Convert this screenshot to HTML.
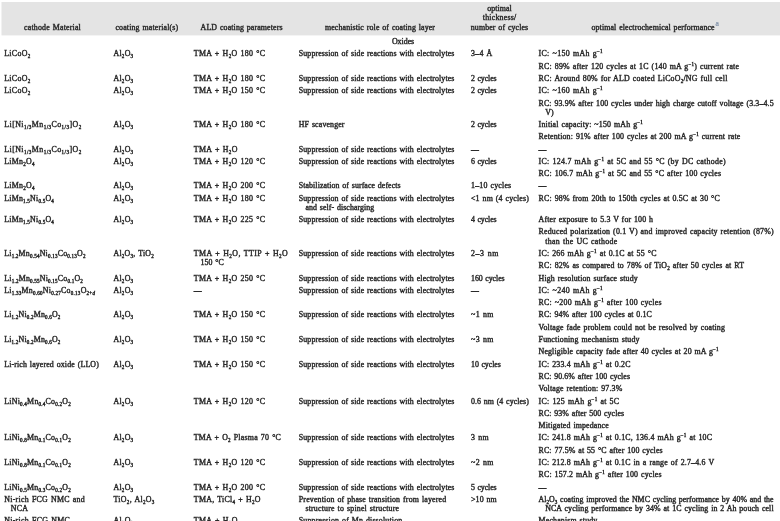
<!DOCTYPE html>
<html><head><meta charset="utf-8"><style>
html,body{margin:0;padding:0;background:#fff;width:780px;height:521px;overflow:hidden}
svg{display:block;filter:blur(0.42px)}
text{font-family:"Liberation Serif",serif;font-size:7.9px;word-spacing:0.7px;fill:#2a2a2a;stroke:#2a2a2a;stroke-width:0.4px}
.sb,.sp{font-size:5.06px}
.sa{font-size:7.6px;fill:#7b8da6;stroke:#7b8da6;stroke-width:0.2px}
</style></head><body>
<svg width="780" height="521" viewBox="0 0 780 521">
<rect x="1.5" y="2" width="779" height="33.4" fill="#e4e4e4"/>
<text x="4.20" y="56.35" textLength="26.0" lengthAdjust="spacing">LiCoO<tspan class="sb" dy="2.0">2</tspan></text>
<text x="113.50" y="56.35" textLength="19.6" lengthAdjust="spacing">Al<tspan class="sb" dy="2.0">2</tspan><tspan dy="-2.0">O</tspan><tspan class="sb" dy="2.0">3</tspan></text>
<text x="193.80" y="56.35" textLength="71.2" lengthAdjust="spacing">TMA + H<tspan class="sb" dy="2.0">2</tspan><tspan dy="-2.0">O 180 °C</tspan></text>
<text x="298.80" y="56.35" textLength="155.6" lengthAdjust="spacing">Suppression of side reactions with electrolytes</text>
<text x="471.00" y="56.35" textLength="21.3" lengthAdjust="spacing">3–4 Å</text>
<text x="538.60" y="56.35" textLength="64.0" lengthAdjust="spacing">IC: ~150 mAh g<tspan class="sp" dy="-3.0">−1</tspan></text>
<text x="538.60" y="68.65" textLength="200.4" lengthAdjust="spacing">RC: 89% after 120 cycles at 1C (140 mA g<tspan class="sp" dy="-3.0">−1</tspan><tspan dy="3.0">) current rate</tspan></text>
<text x="4.20" y="80.95" textLength="26.0" lengthAdjust="spacing">LiCoO<tspan class="sb" dy="2.0">2</tspan></text>
<text x="113.50" y="80.95" textLength="19.6" lengthAdjust="spacing">Al<tspan class="sb" dy="2.0">2</tspan><tspan dy="-2.0">O</tspan><tspan class="sb" dy="2.0">3</tspan></text>
<text x="193.80" y="80.95" textLength="71.2" lengthAdjust="spacing">TMA + H<tspan class="sb" dy="2.0">2</tspan><tspan dy="-2.0">O 180 °C</tspan></text>
<text x="298.80" y="80.95" textLength="155.6" lengthAdjust="spacing">Suppression of side reactions with electrolytes</text>
<text x="471.00" y="80.95" textLength="25.7" lengthAdjust="spacing">2 cycles</text>
<text x="538.60" y="80.95" textLength="188.8" lengthAdjust="spacing">RC: Around 80% for ALD coated LiCoO<tspan class="sb" dy="2.0">2</tspan><tspan dy="-2.0">/NG full cell</tspan></text>
<text x="4.20" y="93.25" textLength="26.0" lengthAdjust="spacing">LiCoO<tspan class="sb" dy="2.0">2</tspan></text>
<text x="113.50" y="93.25" textLength="19.6" lengthAdjust="spacing">Al<tspan class="sb" dy="2.0">2</tspan><tspan dy="-2.0">O</tspan><tspan class="sb" dy="2.0">3</tspan></text>
<text x="193.80" y="93.25" textLength="71.2" lengthAdjust="spacing">TMA + H<tspan class="sb" dy="2.0">2</tspan><tspan dy="-2.0">O 150 °C</tspan></text>
<text x="298.80" y="93.25" textLength="155.6" lengthAdjust="spacing">Suppression of side reactions with electrolytes</text>
<text x="471.00" y="93.25" textLength="25.7" lengthAdjust="spacing">2 cycles</text>
<text x="538.60" y="93.25" textLength="64.0" lengthAdjust="spacing">IC: ~160 mAh g<tspan class="sp" dy="-3.0">−1</tspan></text>
<text x="538.60" y="105.55" textLength="235.0" lengthAdjust="spacing">RC: 93.9% after 100 cycles under high charge cutoff voltage (3.3–4.5</text>
<text x="545.20" y="114.67">V)</text>
<text x="4.20" y="126.97" textLength="77.0" lengthAdjust="spacing">Li[Ni<tspan class="sb" dy="2.0">1/3</tspan><tspan dy="-2.0">Mn</tspan><tspan class="sb" dy="2.0">1/3</tspan><tspan dy="-2.0">Co</tspan><tspan class="sb" dy="2.0">1/3</tspan><tspan dy="-2.0">]O</tspan><tspan class="sb" dy="2.0">2</tspan></text>
<text x="113.50" y="126.97" textLength="19.6" lengthAdjust="spacing">Al<tspan class="sb" dy="2.0">2</tspan><tspan dy="-2.0">O</tspan><tspan class="sb" dy="2.0">3</tspan></text>
<text x="193.80" y="126.97" textLength="71.2" lengthAdjust="spacing">TMA + H<tspan class="sb" dy="2.0">2</tspan><tspan dy="-2.0">O 180 °C</tspan></text>
<text x="298.80" y="126.97" textLength="45.7" lengthAdjust="spacing">HF scavenger</text>
<text x="471.00" y="126.97" textLength="25.7" lengthAdjust="spacing">2 cycles</text>
<text x="538.60" y="126.97" textLength="104.2" lengthAdjust="spacing">Initial capacity: ~150 mAh g<tspan class="sp" dy="-3.0">−1</tspan></text>
<text x="538.60" y="139.27" textLength="201.7" lengthAdjust="spacing">Retention: 91% after 100 cycles at 200 mA g<tspan class="sp" dy="-3.0">−1</tspan><tspan dy="3.0"> current rate</tspan></text>
<text x="4.20" y="151.57" textLength="77.0" lengthAdjust="spacing">Li[Ni<tspan class="sb" dy="2.0">1/3</tspan><tspan dy="-2.0">Mn</tspan><tspan class="sb" dy="2.0">1/3</tspan><tspan dy="-2.0">Co</tspan><tspan class="sb" dy="2.0">1/3</tspan><tspan dy="-2.0">]O</tspan><tspan class="sb" dy="2.0">2</tspan></text>
<text x="113.50" y="151.57" textLength="19.6" lengthAdjust="spacing">Al<tspan class="sb" dy="2.0">2</tspan><tspan dy="-2.0">O</tspan><tspan class="sb" dy="2.0">3</tspan></text>
<text x="193.80" y="151.57" textLength="43.6" lengthAdjust="spacing">TMA + H<tspan class="sb" dy="2.0">2</tspan><tspan dy="-2.0">O</tspan></text>
<text x="298.80" y="151.57" textLength="155.6" lengthAdjust="spacing">Suppression of side reactions with electrolytes</text>
<text x="471.00" y="151.57">—</text>
<text x="538.60" y="151.57">—</text>
<text x="4.20" y="163.87" textLength="30.3" lengthAdjust="spacing">LiMn<tspan class="sb" dy="2.0">2</tspan><tspan dy="-2.0">O</tspan><tspan class="sb" dy="2.0">4</tspan></text>
<text x="113.50" y="163.87" textLength="19.6" lengthAdjust="spacing">Al<tspan class="sb" dy="2.0">2</tspan><tspan dy="-2.0">O</tspan><tspan class="sb" dy="2.0">3</tspan></text>
<text x="193.80" y="163.87" textLength="71.2" lengthAdjust="spacing">TMA + H<tspan class="sb" dy="2.0">2</tspan><tspan dy="-2.0">O 120 °C</tspan></text>
<text x="298.80" y="163.87" textLength="155.6" lengthAdjust="spacing">Suppression of side reactions with electrolytes</text>
<text x="471.00" y="163.87" textLength="25.7" lengthAdjust="spacing">6 cycles</text>
<text x="538.60" y="163.87" textLength="187.0" lengthAdjust="spacing">IC: 124.7 mAh g<tspan class="sp" dy="-3.0">−1</tspan><tspan dy="3.0"> at 5C and 55 °C (by DC cathode)</tspan></text>
<text x="538.60" y="176.17" textLength="182.4" lengthAdjust="spacing">RC: 106.7 mAh g<tspan class="sp" dy="-3.0">−1</tspan><tspan dy="3.0"> at 5C and 55 °C after 100 cycles</tspan></text>
<text x="4.20" y="188.47" textLength="30.3" lengthAdjust="spacing">LiMn<tspan class="sb" dy="2.0">2</tspan><tspan dy="-2.0">O</tspan><tspan class="sb" dy="2.0">4</tspan></text>
<text x="113.50" y="188.47" textLength="19.6" lengthAdjust="spacing">Al<tspan class="sb" dy="2.0">2</tspan><tspan dy="-2.0">O</tspan><tspan class="sb" dy="2.0">3</tspan></text>
<text x="193.80" y="188.47" textLength="71.2" lengthAdjust="spacing">TMA + H<tspan class="sb" dy="2.0">2</tspan><tspan dy="-2.0">O 200 °C</tspan></text>
<text x="298.80" y="188.47" textLength="101.8" lengthAdjust="spacing">Stabilization of surface defects</text>
<text x="471.00" y="188.47" textLength="40.2" lengthAdjust="spacing">1–10 cycles</text>
<text x="538.60" y="188.47">—</text>
<text x="4.20" y="200.77" textLength="49.7" lengthAdjust="spacing">LiMn<tspan class="sb" dy="2.0">1.5</tspan><tspan dy="-2.0">Ni</tspan><tspan class="sb" dy="2.0">0.5</tspan><tspan dy="-2.0">O</tspan><tspan class="sb" dy="2.0">4</tspan></text>
<text x="113.50" y="200.77" textLength="19.6" lengthAdjust="spacing">Al<tspan class="sb" dy="2.0">2</tspan><tspan dy="-2.0">O</tspan><tspan class="sb" dy="2.0">3</tspan></text>
<text x="193.80" y="200.77" textLength="71.2" lengthAdjust="spacing">TMA + H<tspan class="sb" dy="2.0">2</tspan><tspan dy="-2.0">O 180 °C</tspan></text>
<text x="298.80" y="200.77" textLength="155.6" lengthAdjust="spacing">Suppression of side reactions with electrolytes</text>
<text x="305.40" y="209.89" textLength="68.9" lengthAdjust="spacing">and self- discharging</text>
<text x="471.00" y="200.77" textLength="57.8" lengthAdjust="spacing">&lt;1 nm (4 cycles)</text>
<text x="538.60" y="200.77" textLength="181.1" lengthAdjust="spacing">RC: 98% from 20th to 150th cycles at 0.5C at 30 °C</text>
<text x="4.20" y="222.19" textLength="49.7" lengthAdjust="spacing">LiMn<tspan class="sb" dy="2.0">1.5</tspan><tspan dy="-2.0">Ni</tspan><tspan class="sb" dy="2.0">0.5</tspan><tspan dy="-2.0">O</tspan><tspan class="sb" dy="2.0">4</tspan></text>
<text x="113.50" y="222.19" textLength="19.6" lengthAdjust="spacing">Al<tspan class="sb" dy="2.0">2</tspan><tspan dy="-2.0">O</tspan><tspan class="sb" dy="2.0">3</tspan></text>
<text x="193.80" y="222.19" textLength="71.2" lengthAdjust="spacing">TMA + H<tspan class="sb" dy="2.0">2</tspan><tspan dy="-2.0">O 225 °C</tspan></text>
<text x="298.80" y="222.19" textLength="155.6" lengthAdjust="spacing">Suppression of side reactions with electrolytes</text>
<text x="471.00" y="222.19" textLength="25.7" lengthAdjust="spacing">4 cycles</text>
<text x="538.60" y="222.19" textLength="114.4" lengthAdjust="spacing">After exposure to 5.3 V for 100 h</text>
<text x="538.60" y="234.49" textLength="235.0" lengthAdjust="spacing">Reduced polarization (0.1 V) and improved capacity retention (87%)</text>
<text x="545.20" y="243.61" textLength="72.0" lengthAdjust="spacing">than the UC cathode</text>
<text x="4.20" y="255.91" textLength="81.3" lengthAdjust="spacing">Li<tspan class="sb" dy="2.0">1.2</tspan><tspan dy="-2.0">Mn</tspan><tspan class="sb" dy="2.0">0.54</tspan><tspan dy="-2.0">Ni</tspan><tspan class="sb" dy="2.0">0.13</tspan><tspan dy="-2.0">Co</tspan><tspan class="sb" dy="2.0">0.13</tspan><tspan dy="-2.0">O</tspan><tspan class="sb" dy="2.0">2</tspan></text>
<text x="113.50" y="255.91" textLength="40.3" lengthAdjust="spacing">Al<tspan class="sb" dy="2.0">2</tspan><tspan dy="-2.0">O</tspan><tspan class="sb" dy="2.0">3</tspan><tspan dy="-2.0">, TiO</tspan><tspan class="sb" dy="2.0">2</tspan></text>
<text x="193.80" y="255.91" textLength="93.9" lengthAdjust="spacing">TMA + H<tspan class="sb" dy="2.0">2</tspan><tspan dy="-2.0">O, TTIP + H</tspan><tspan class="sb" dy="2.0">2</tspan><tspan dy="-2.0">O</tspan></text>
<text x="200.40" y="265.03" textLength="23.4" lengthAdjust="spacing">150 °C</text>
<text x="298.80" y="255.91" textLength="155.6" lengthAdjust="spacing">Suppression of side reactions with electrolytes</text>
<text x="471.00" y="255.91" textLength="27.3" lengthAdjust="spacing">2–3 nm</text>
<text x="538.60" y="255.91" textLength="117.8" lengthAdjust="spacing">IC: 266 mAh g<tspan class="sp" dy="-3.0">−1</tspan><tspan dy="3.0"> at 0.1C at 55 °C</tspan></text>
<text x="538.60" y="268.21" textLength="205.5" lengthAdjust="spacing">RC: 82% as compared to 78% of TiO<tspan class="sb" dy="2.0">2</tspan><tspan dy="-2.0"> after 50 cycles at RT</tspan></text>
<text x="4.20" y="280.51" textLength="78.7" lengthAdjust="spacing">Li<tspan class="sb" dy="2.0">1.2</tspan><tspan dy="-2.0">Mn</tspan><tspan class="sb" dy="2.0">0.55</tspan><tspan dy="-2.0">Ni</tspan><tspan class="sb" dy="2.0">0.15</tspan><tspan dy="-2.0">Co</tspan><tspan class="sb" dy="2.0">0.1</tspan><tspan dy="-2.0">O</tspan><tspan class="sb" dy="2.0">2</tspan></text>
<text x="113.50" y="280.51" textLength="19.6" lengthAdjust="spacing">Al<tspan class="sb" dy="2.0">2</tspan><tspan dy="-2.0">O</tspan><tspan class="sb" dy="2.0">3</tspan></text>
<text x="193.80" y="280.51" textLength="71.2" lengthAdjust="spacing">TMA + H<tspan class="sb" dy="2.0">2</tspan><tspan dy="-2.0">O 250 °C</tspan></text>
<text x="298.80" y="280.51" textLength="155.6" lengthAdjust="spacing">Suppression of side reactions with electrolytes</text>
<text x="471.00" y="280.51" textLength="33.7" lengthAdjust="spacing">160 cycles</text>
<text x="538.60" y="280.51" textLength="99.1" lengthAdjust="spacing">High resolution surface study</text>
<text x="4.20" y="292.81" textLength="90.8" lengthAdjust="spacing">Li<tspan class="sb" dy="2.0">1.33</tspan><tspan dy="-2.0">Mn</tspan><tspan class="sb" dy="2.0">0.60</tspan><tspan dy="-2.0">Ni</tspan><tspan class="sb" dy="2.0">0.27</tspan><tspan dy="-2.0">Co</tspan><tspan class="sb" dy="2.0">0.13</tspan><tspan dy="-2.0">O</tspan><tspan class="sb" dy="2.0">2+<tspan font-style="italic">d</tspan></tspan></text>
<text x="113.50" y="292.81" textLength="19.6" lengthAdjust="spacing">Al<tspan class="sb" dy="2.0">2</tspan><tspan dy="-2.0">O</tspan><tspan class="sb" dy="2.0">3</tspan></text>
<text x="193.80" y="292.81">—</text>
<text x="298.80" y="292.81" textLength="155.6" lengthAdjust="spacing">Suppression of side reactions with electrolytes</text>
<text x="471.00" y="292.81">—</text>
<text x="538.60" y="292.81" textLength="64.0" lengthAdjust="spacing">IC: ~240 mAh g<tspan class="sp" dy="-3.0">−1</tspan></text>
<text x="538.60" y="305.11" textLength="122.9" lengthAdjust="spacing">RC: ~200 mAh g<tspan class="sp" dy="-3.0">−1</tspan><tspan dy="3.0"> after 100 cycles</tspan></text>
<text x="4.20" y="317.41" textLength="56.2" lengthAdjust="spacing">Li<tspan class="sb" dy="2.0">1.2</tspan><tspan dy="-2.0">Ni</tspan><tspan class="sb" dy="2.0">0.2</tspan><tspan dy="-2.0">Mn</tspan><tspan class="sb" dy="2.0">0.6</tspan><tspan dy="-2.0">O</tspan><tspan class="sb" dy="2.0">2</tspan></text>
<text x="113.50" y="317.41" textLength="19.6" lengthAdjust="spacing">Al<tspan class="sb" dy="2.0">2</tspan><tspan dy="-2.0">O</tspan><tspan class="sb" dy="2.0">3</tspan></text>
<text x="193.80" y="317.41" textLength="71.2" lengthAdjust="spacing">TMA + H<tspan class="sb" dy="2.0">2</tspan><tspan dy="-2.0">O 150 °C</tspan></text>
<text x="298.80" y="317.41" textLength="155.6" lengthAdjust="spacing">Suppression of side reactions with electrolytes</text>
<text x="471.00" y="317.41" textLength="22.5" lengthAdjust="spacing">~1 nm</text>
<text x="538.60" y="317.41" textLength="113.2" lengthAdjust="spacing">RC: 94% after 100 cycles at 0.1C</text>
<text x="538.60" y="329.71" textLength="186.3" lengthAdjust="spacing">Voltage fade problem could not be resolved by coating</text>
<text x="4.20" y="342.01" textLength="56.2" lengthAdjust="spacing">Li<tspan class="sb" dy="2.0">1.2</tspan><tspan dy="-2.0">Ni</tspan><tspan class="sb" dy="2.0">0.2</tspan><tspan dy="-2.0">Mn</tspan><tspan class="sb" dy="2.0">0.6</tspan><tspan dy="-2.0">O</tspan><tspan class="sb" dy="2.0">2</tspan></text>
<text x="113.50" y="342.01" textLength="19.6" lengthAdjust="spacing">Al<tspan class="sb" dy="2.0">2</tspan><tspan dy="-2.0">O</tspan><tspan class="sb" dy="2.0">3</tspan></text>
<text x="193.80" y="342.01" textLength="71.2" lengthAdjust="spacing">TMA + H<tspan class="sb" dy="2.0">2</tspan><tspan dy="-2.0">O 150 °C</tspan></text>
<text x="298.80" y="342.01" textLength="155.6" lengthAdjust="spacing">Suppression of side reactions with electrolytes</text>
<text x="471.00" y="342.01" textLength="22.5" lengthAdjust="spacing">~3 nm</text>
<text x="538.60" y="342.01" textLength="100.9" lengthAdjust="spacing">Functioning mechanism study</text>
<text x="538.60" y="354.31" textLength="179.9" lengthAdjust="spacing">Negligible capacity fade after 40 cycles at 20 mA g<tspan class="sp" dy="-3.0">−1</tspan></text>
<text x="4.20" y="366.61" textLength="94.6" lengthAdjust="spacing">Li-rich layered oxide (LLO)</text>
<text x="113.50" y="366.61" textLength="19.6" lengthAdjust="spacing">Al<tspan class="sb" dy="2.0">2</tspan><tspan dy="-2.0">O</tspan><tspan class="sb" dy="2.0">3</tspan></text>
<text x="193.80" y="366.61" textLength="71.2" lengthAdjust="spacing">TMA + H<tspan class="sb" dy="2.0">2</tspan><tspan dy="-2.0">O 150 °C</tspan></text>
<text x="298.80" y="366.61" textLength="155.6" lengthAdjust="spacing">Suppression of side reactions with electrolytes</text>
<text x="471.00" y="366.61" textLength="29.9" lengthAdjust="spacing">10 cycles</text>
<text x="538.60" y="366.61" textLength="91.9" lengthAdjust="spacing">IC: 233.4 mAh g<tspan class="sp" dy="-3.0">−1</tspan><tspan dy="3.0"> at 0.2C</tspan></text>
<text x="538.60" y="378.91" textLength="91.4" lengthAdjust="spacing">RC: 90.6% after 100 cycles</text>
<text x="538.60" y="391.21" textLength="83.7" lengthAdjust="spacing">Voltage retention: 97.3%</text>
<text x="4.20" y="403.51" textLength="66.6" lengthAdjust="spacing">LiNi<tspan class="sb" dy="2.0">0.4</tspan><tspan dy="-2.0">Mn</tspan><tspan class="sb" dy="2.0">0.4</tspan><tspan dy="-2.0">Co</tspan><tspan class="sb" dy="2.0">0.2</tspan><tspan dy="-2.0">O</tspan><tspan class="sb" dy="2.0">2</tspan></text>
<text x="113.50" y="403.51" textLength="19.6" lengthAdjust="spacing">Al<tspan class="sb" dy="2.0">2</tspan><tspan dy="-2.0">O</tspan><tspan class="sb" dy="2.0">3</tspan></text>
<text x="193.80" y="403.51" textLength="71.2" lengthAdjust="spacing">TMA + H<tspan class="sb" dy="2.0">2</tspan><tspan dy="-2.0">O 120 °C</tspan></text>
<text x="298.80" y="403.51" textLength="155.6" lengthAdjust="spacing">Suppression of side reactions with electrolytes</text>
<text x="471.00" y="403.51" textLength="57.8" lengthAdjust="spacing">0.6 nm (4 cycles)</text>
<text x="538.60" y="403.51" textLength="80.4" lengthAdjust="spacing">IC: 125 mAh g<tspan class="sp" dy="-3.0">−1</tspan><tspan dy="3.0"> at 5C</tspan></text>
<text x="538.60" y="415.81" textLength="85.5" lengthAdjust="spacing">RC: 93% after 500 cycles</text>
<text x="538.60" y="428.11" textLength="70.1" lengthAdjust="spacing">Mitigated impedance</text>
<text x="4.20" y="440.41" textLength="66.5" lengthAdjust="spacing">LiNi<tspan class="sb" dy="2.0">0.8</tspan><tspan dy="-2.0">Mn</tspan><tspan class="sb" dy="2.0">0.1</tspan><tspan dy="-2.0">Co</tspan><tspan class="sb" dy="2.0">0.1</tspan><tspan dy="-2.0">O</tspan><tspan class="sb" dy="2.0">2</tspan></text>
<text x="113.50" y="440.41" textLength="19.6" lengthAdjust="spacing">Al<tspan class="sb" dy="2.0">2</tspan><tspan dy="-2.0">O</tspan><tspan class="sb" dy="2.0">3</tspan></text>
<text x="193.80" y="440.41" textLength="87.0" lengthAdjust="spacing">TMA + O<tspan class="sb" dy="2.0">2</tspan><tspan dy="-2.0"> Plasma 70 °C</tspan></text>
<text x="298.80" y="440.41" textLength="155.6" lengthAdjust="spacing">Suppression of side reactions with electrolytes</text>
<text x="471.00" y="440.41" textLength="17.7" lengthAdjust="spacing">3 nm</text>
<text x="538.60" y="440.41" textLength="173.4" lengthAdjust="spacing">IC: 241.8 mAh g<tspan class="sp" dy="-3.0">−1</tspan><tspan dy="3.0"> at 0.1C, 136.4 mAh g</tspan><tspan class="sp" dy="-3.0">−1</tspan><tspan dy="3.0"> at 10C</tspan></text>
<text x="538.60" y="452.71" textLength="124.0" lengthAdjust="spacing">RC: 77.5% at 55 °C after 100 cycles</text>
<text x="4.20" y="465.01" textLength="66.5" lengthAdjust="spacing">LiNi<tspan class="sb" dy="2.0">0.8</tspan><tspan dy="-2.0">Mn</tspan><tspan class="sb" dy="2.0">0.1</tspan><tspan dy="-2.0">Co</tspan><tspan class="sb" dy="2.0">0.1</tspan><tspan dy="-2.0">O</tspan><tspan class="sb" dy="2.0">2</tspan></text>
<text x="113.50" y="465.01" textLength="19.6" lengthAdjust="spacing">Al<tspan class="sb" dy="2.0">2</tspan><tspan dy="-2.0">O</tspan><tspan class="sb" dy="2.0">3</tspan></text>
<text x="193.80" y="465.01" textLength="71.2" lengthAdjust="spacing">TMA + H<tspan class="sb" dy="2.0">2</tspan><tspan dy="-2.0">O 120 °C</tspan></text>
<text x="298.80" y="465.01" textLength="155.6" lengthAdjust="spacing">Suppression of side reactions with electrolytes</text>
<text x="471.00" y="465.01" textLength="22.5" lengthAdjust="spacing">~2 nm</text>
<text x="538.60" y="465.01" textLength="175.5" lengthAdjust="spacing">IC: 212.8 mAh g<tspan class="sp" dy="-3.0">−1</tspan><tspan dy="3.0"> at 0.1C in a range of 2.7–4.6 V</tspan></text>
<text x="538.60" y="477.31" textLength="122.9" lengthAdjust="spacing">RC: 157.2 mAh g<tspan class="sp" dy="-3.0">−1</tspan><tspan dy="3.0"> after 100 cycles</tspan></text>
<text x="4.20" y="489.61" textLength="66.5" lengthAdjust="spacing">LiNi<tspan class="sb" dy="2.0">0.5</tspan><tspan dy="-2.0">Mn</tspan><tspan class="sb" dy="2.0">0.3</tspan><tspan dy="-2.0">Co</tspan><tspan class="sb" dy="2.0">0.2</tspan><tspan dy="-2.0">O</tspan><tspan class="sb" dy="2.0">2</tspan></text>
<text x="113.50" y="489.61" textLength="19.6" lengthAdjust="spacing">Al<tspan class="sb" dy="2.0">2</tspan><tspan dy="-2.0">O</tspan><tspan class="sb" dy="2.0">3</tspan></text>
<text x="193.80" y="489.61" textLength="71.2" lengthAdjust="spacing">TMA + H<tspan class="sb" dy="2.0">2</tspan><tspan dy="-2.0">O 200 °C</tspan></text>
<text x="298.80" y="489.61" textLength="155.6" lengthAdjust="spacing">Suppression of side reactions with electrolytes</text>
<text x="471.00" y="489.61" textLength="25.7" lengthAdjust="spacing">5 cycles</text>
<text x="538.60" y="489.61">—</text>
<text x="4.20" y="501.91" textLength="80.5" lengthAdjust="spacing">Ni-rich FCG NMC and</text>
<text x="10.80" y="511.03" textLength="17.1" lengthAdjust="spacing">NCA</text>
<text x="113.50" y="501.91" textLength="40.8" lengthAdjust="spacing">TiO<tspan class="sb" dy="2.0">2</tspan><tspan dy="-2.0">, Al</tspan><tspan class="sb" dy="2.0">2</tspan><tspan dy="-2.0">O</tspan><tspan class="sb" dy="2.0">3</tspan></text>
<text x="193.80" y="501.91" textLength="66.7" lengthAdjust="spacing">TMA, TiCl<tspan class="sb" dy="2.0">4</tspan><tspan dy="-2.0"> + H</tspan><tspan class="sb" dy="2.0">2</tspan><tspan dy="-2.0">O</tspan></text>
<text x="298.80" y="501.91" textLength="147.3" lengthAdjust="spacing">Prevention of phase transition from layered</text>
<text x="305.40" y="511.03" textLength="93.6" lengthAdjust="spacing">structure to spinel structure</text>
<text x="471.00" y="501.91" textLength="25.7" lengthAdjust="spacing">&gt;10 nm</text>
<text x="538.60" y="501.91" textLength="235.0" lengthAdjust="spacing">Al<tspan class="sb" dy="2.0">2</tspan><tspan dy="-2.0">O</tspan><tspan class="sb" dy="2.0">3</tspan><tspan dy="-2.0"> coating improved the NMC cycling performance by 40% and the</tspan></text>
<text x="545.20" y="511.03" textLength="228.4" lengthAdjust="spacing">NCA cycling performance by 34% at 1C cycling in 2 Ah pouch cell</text>
<text x="4.20" y="523.33" textLength="65.6" lengthAdjust="spacing">Ni-rich FCG NMC</text>
<text x="113.50" y="523.33" textLength="19.6" lengthAdjust="spacing">Al<tspan class="sb" dy="2.0">2</tspan><tspan dy="-2.0">O</tspan><tspan class="sb" dy="2.0">3</tspan></text>
<text x="193.80" y="523.33" textLength="43.6" lengthAdjust="spacing">TMA + H<tspan class="sb" dy="2.0">2</tspan><tspan dy="-2.0">O</tspan></text>
<text x="298.80" y="523.33" textLength="103.4" lengthAdjust="spacing">Suppression of Mn dissolution</text>
<text x="538.60" y="523.33" textLength="58.7" lengthAdjust="spacing">Mechanism study</text>
<text x="24.00" y="29.50" textLength="56.8" lengthAdjust="spacing">cathode Material</text>
<text x="115.40" y="29.50" textLength="62.8" lengthAdjust="spacing">coating material(s)</text>
<text x="200.60" y="29.50" textLength="81.9" lengthAdjust="spacing">ALD coating parameters</text>
<text x="325.00" y="29.50" textLength="110.0" lengthAdjust="spacing">mechanistic role of coating layer</text>
<text x="487.20" y="11.00" textLength="24.6" lengthAdjust="spacing">optimal</text>
<text x="482.80" y="20.20" textLength="33.4" lengthAdjust="spacing">thickness/</text>
<text x="470.80" y="29.50" textLength="57.4" lengthAdjust="spacing">number of cycles</text>
<text x="591.50" y="29.50" textLength="123.1" lengthAdjust="spacing">optimal electrochemical performance</text>
<text x="391.90" y="43.80" textLength="22.3" lengthAdjust="spacing">Oxides</text>
<text x="715.6" y="26.2" class="sa">a</text>
</svg>
</body></html>
